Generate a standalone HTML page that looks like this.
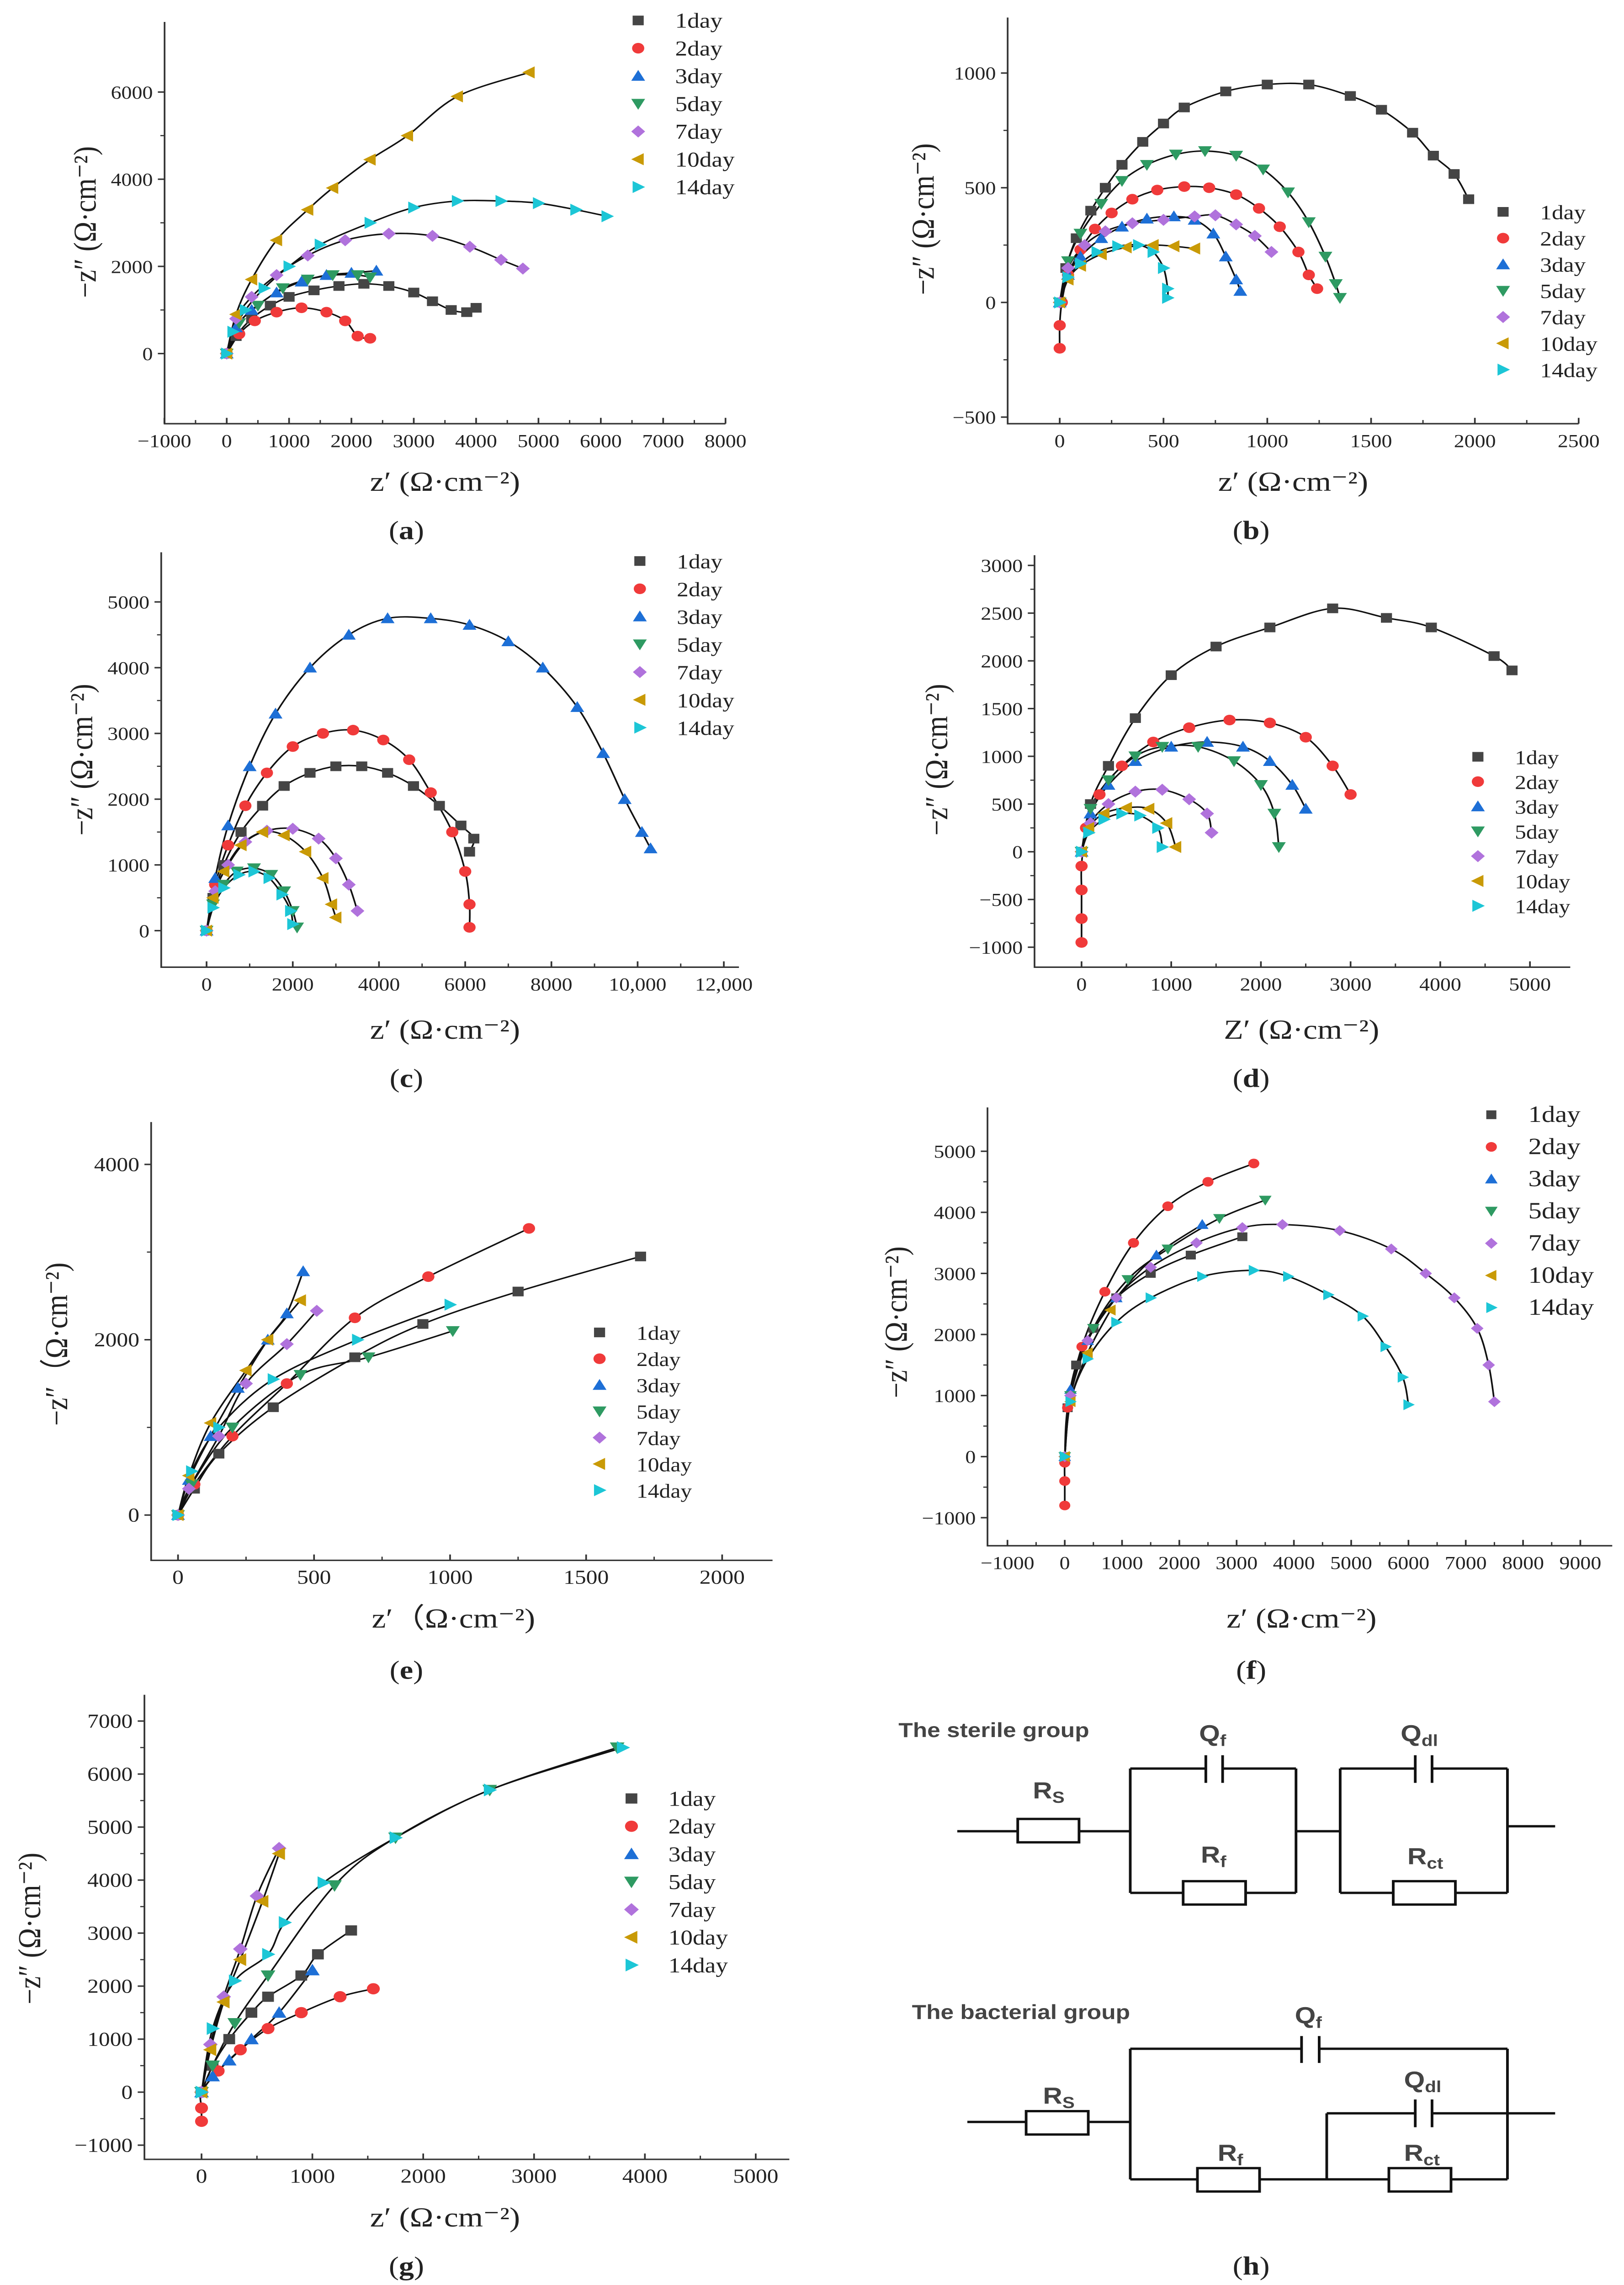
<!DOCTYPE html>
<html><head><meta charset="utf-8"><style>
html,body{margin:0;padding:0;background:#fff;overflow:hidden;width:100vw;height:100vh;}
svg{display:block;width:100vw;height:100vh;}
text{font-family:"Liberation Serif",serif;fill:#222;}
.sans{font-family:"Liberation Sans","DejaVu Sans",sans-serif;font-weight:bold;fill:#444;}
</style></head><body>
<svg id="fig" xmlns="http://www.w3.org/2000/svg" viewBox="0 0 967 1564" preserveAspectRatio="none">
<rect x="0" y="0" width="967" height="1564" fill="#fff"/>
<g id="plots"></g>
<g id="circuits" stroke="#111" stroke-width="1.6" fill="none">
  <polyline points="570,1253.4 606,1253.4"/>
  <rect x="606" y="1245" width="36.5" height="16"/>
  <polyline points="642.5,1253.4 673,1253.4"/>
  <polyline points="673,1210.5 673,1295.6"/>
  <polyline points="673,1210.5 718,1210.5"/><polyline points="718,1201.4 718,1220.3"/><polyline points="728,1201.4 728,1220.3"/><polyline points="728,1210.5 771.7,1210.5"/>
  <polyline points="771.7,1210.5 771.7,1295.6"/>
  <polyline points="673,1295.6 704.5,1295.6"/><rect x="704.5" y="1287.6" width="37.2" height="16"/><polyline points="741.7,1295.6 771.7,1295.6"/>
  <polyline points="771.7,1253.4 798,1253.4"/>
  <polyline points="798,1210.5 798,1295.6"/>
  <polyline points="798,1210.5 842.7,1210.5"/><polyline points="842.7,1201.4 842.7,1220.3"/><polyline points="852.7,1201.4 852.7,1220.3"/><polyline points="852.7,1210.5 897.6,1210.5"/>
  <polyline points="897.6,1210.5 897.6,1295.6"/>
  <polyline points="798,1295.6 829.6,1295.6"/><rect x="829.6" y="1287.6" width="37" height="16"/><polyline points="866.6,1295.6 897.6,1295.6"/>
  <polyline points="897.6,1250 926,1250"/>
  <polyline points="576,1452.4 611,1452.4"/><rect x="611" y="1445" width="37" height="16"/><polyline points="648,1452.4 673,1452.4"/>
  <polyline points="673,1402.3 673,1491.7"/>
  <polyline points="673,1402.3 775,1402.3"/><polyline points="775,1393.6 775,1412"/><polyline points="785.5,1393.6 785.5,1412"/><polyline points="785.5,1402.3 897.6,1402.3"/>
  <polyline points="897.6,1402.3 897.6,1491.7"/>
  <polyline points="673,1491.7 713,1491.7"/><rect x="713" y="1484" width="37" height="16"/><polyline points="750,1491.7 827,1491.7"/><rect x="827" y="1484" width="37" height="16"/><polyline points="864,1491.7 897.6,1491.7"/>
  <polyline points="790,1446.5 790,1491.7"/>
  <polyline points="790,1446.5 842.7,1446.5"/><polyline points="842.7,1437 842.7,1456"/><polyline points="852.7,1437 852.7,1456"/><polyline points="852.7,1446.5 926,1446.5"/>
</g>
<g>
  <text class="sans" x="535" y="1189" font-size="14">The sterile group</text>
  <text class="sans" x="543" y="1382" font-size="14">The bacterial group</text>
  <text class="sans" x="615" y="1231" font-size="16">R<tspan font-size="11" dy="3">S</tspan></text>
  <text class="sans" x="714" y="1192" font-size="16">Q<tspan font-size="11" dy="3">f</tspan></text>
  <text class="sans" x="715" y="1275" font-size="16">R<tspan font-size="11" dy="3">f</tspan></text>
  <text class="sans" x="834" y="1192" font-size="16">Q<tspan font-size="11" dy="3">dl</tspan></text>
  <text class="sans" x="838" y="1276" font-size="16">R<tspan font-size="11" dy="3">ct</tspan></text>
  <text class="sans" x="621" y="1440" font-size="16">R<tspan font-size="11" dy="3">S</tspan></text>
  <text class="sans" x="771" y="1385" font-size="16">Q<tspan font-size="11" dy="3">f</tspan></text>
  <text class="sans" x="725" y="1479" font-size="16">R<tspan font-size="11" dy="3">f</tspan></text>
  <text class="sans" x="836" y="1429" font-size="16">Q<tspan font-size="11" dy="3">dl</tspan></text>
  <text class="sans" x="836" y="1479" font-size="16">R<tspan font-size="11" dy="3">ct</tspan></text>
</g>
<g font-size="18">
  <text x="242" y="369" text-anchor="middle">(<tspan font-weight="bold">a</tspan>)</text>
  <text x="745" y="369" text-anchor="middle">(<tspan font-weight="bold">b</tspan>)</text>
  <text x="242" y="744" text-anchor="middle">(<tspan font-weight="bold">c</tspan>)</text>
  <text x="745" y="744" text-anchor="middle">(<tspan font-weight="bold">d</tspan>)</text>
  <text x="242" y="1149" text-anchor="middle">(<tspan font-weight="bold">e</tspan>)</text>
  <text x="745" y="1149" text-anchor="middle">(<tspan font-weight="bold">f</tspan>)</text>
  <text x="242" y="1557" text-anchor="middle">(<tspan font-weight="bold">g</tspan>)</text>
  <text x="745" y="1557" text-anchor="middle">(<tspan font-weight="bold">h</tspan>)</text>
</g>
</svg>
<script>
const seriesNames = ["1day","2day","3day","5day","7day","10day","14day"];
const seriesColors = ["#454545","#f03a3a","#1d6fd6","#2e9a62","#b072dc","#c99a06","#1cc6d6"];

const a_1day = [[0,0],[150,400],[400,800],[700,1100],[1000,1300],[1400,1450],[1800,1550],[2200,1600],[2600,1550],[3000,1400],[3300,1200],[3600,1000],[3850,950],[4000,1050]];
const a_2day = [[0,0],[200,450],[450,750],[800,950],[1200,1050],[1600,950],[1900,750],[2100,400],[2300,350]];
const a_3day = [[0,0],[150,600],[400,1000],[800,1400],[1200,1650],[1600,1800],[2000,1850],[2400,1900]];
const a_5day = [[0,0],[200,700],[500,1100],[900,1500],[1300,1700],[1700,1800],[2100,1800],[2300,1750]];
const a_7day = [[0,0],[150,800],[400,1300],[800,1800],[1300,2250],[1900,2600],[2600,2750],[3300,2700],[3900,2450],[4400,2150],[4750,1950]];
const a_10day = [[0,0],[150,900],[400,1700],[800,2600],[1300,3300],[1700,3800],[2300,4450],[2900,5000],[3700,5900],[4850,6450]];
const a_14day = [[0,0],[100,500],[300,1000],[600,1500],[1000,2000],[1500,2500],[2300,3000],[3000,3350],[3700,3500],[4400,3500],[5000,3450],[5600,3300],[6100,3150]];
const b_1day = [[0,0],[30,150],[80,280],[150,400],[220,500],[300,600],[400,700],[500,780],[600,850],[800,920],[1000,950],[1200,950],[1400,900],[1550,840],[1700,740],[1800,640],[1900,560],[1970,450]];
const b_2day = [[0,-200],[0,-100],[10,0],[40,120],[100,230],[170,320],[250,390],[350,450],[470,490],[600,505],[720,500],[850,470],[960,410],[1060,330],[1150,220],[1200,120],[1240,60]];
const b_3day = [[0,0],[40,120],[100,200],[200,280],[300,330],[420,365],[550,375],[650,360],[740,300],[800,200],[850,100],[870,50]];
const b_5day = [[0,0],[40,180],[100,300],[200,430],[300,530],[420,600],[560,645],[700,660],[850,640],[980,580],[1100,480],[1200,350],[1280,200],[1330,80],[1350,20]];
const b_7day = [[0,0],[40,150],[120,250],[220,310],[350,345],[500,360],[650,375],[750,380],[850,340],[940,290],[1020,220]];
const b_10day = [[0,0],[40,100],[100,160],[200,210],[320,240],[450,250],[550,245],[650,235]];
const b_14day = [[0,0],[40,110],[100,170],[180,220],[280,245],[380,250],[450,220],[500,150],[520,60],[520,20]];
const c_1day = [[0,0],[150,500],[400,1000],[800,1500],[1300,1900],[1800,2200],[2400,2400],[3000,2500],[3600,2500],[4200,2400],[4800,2200],[5400,1900],[5900,1600],[6200,1400],[6100,1200]];
const c_2day = [[0,0],[200,700],[500,1300],[900,1900],[1400,2400],[2000,2800],[2700,3000],[3400,3050],[4100,2900],[4700,2600],[5200,2100],[5700,1500],[6000,900],[6100,400],[6100,50]];
const c_3day = [[0,0],[200,800],[500,1600],[1000,2500],[1600,3300],[2400,4000],[3300,4500],[4200,4750],[5200,4750],[6100,4650],[7000,4400],[7800,4000],[8600,3400],[9200,2700],[9700,2000],[10100,1500],[10300,1250]];
const c_5day = [[0,0],[150,400],[400,700],[700,900],[1100,950],[1500,850],[1800,600],[2000,300],[2100,50]];
const c_7day = [[0,0],[200,600],[500,1000],[900,1350],[1400,1520],[2000,1550],[2600,1400],[3000,1100],[3300,700],[3500,300]];
const c_10day = [[0,0],[150,500],[400,900],[800,1300],[1300,1500],[1800,1450],[2300,1200],[2700,800],[2900,400],[3000,200]];
const c_14day = [[0,0],[150,350],[400,650],[750,850],[1100,900],[1450,800],[1750,550],[1950,300],[2000,100]];
const d_1day = [[0,0],[100,500],[300,900],[600,1400],[1000,1850],[1500,2150],[2100,2350],[2800,2550],[3400,2450],[3900,2350],[4600,2050],[4800,1900]];
const d_2day = [[0,-950],[0,-700],[0,-400],[0,-150],[50,250],[200,600],[450,900],[800,1150],[1200,1300],[1650,1380],[2100,1350],[2500,1200],[2800,900],[3000,600]];
const d_3day = [[0,0],[100,400],[300,700],[600,950],[1000,1100],[1400,1150],[1800,1100],[2100,950],[2350,700],[2500,450]];
const d_5day = [[0,0],[100,450],[300,750],[600,1000],[900,1100],[1300,1100],[1700,950],[2000,700],[2150,400],[2200,50]];
const d_7day = [[0,0],[100,300],[300,500],[600,630],[900,650],[1200,550],[1400,400],[1450,200]];
const d_10day = [[0,0],[80,250],[250,400],[500,460],[750,450],[950,300],[1050,50]];
const d_14day = [[0,0],[80,200],[250,340],[450,400],[650,380],[850,250],[900,50]];
const e_1day = [[0,0],[60,300],[150,700],[350,1230],[650,1800],[900,2180],[1250,2550],[1700,2950]];
const e_2day = [[0,0],[60,350],[200,900],[400,1500],[650,2250],[920,2720],[1290,3270]];
const e_3day = [[0,0],[40,400],[120,900],[220,1450],[330,2000],[400,2300],[460,2780]];
const e_5day = [[0,0],[50,350],[200,1000],[450,1600],[700,1800],[1010,2100]];
const e_7day = [[0,0],[40,300],[150,900],[250,1500],[400,1950],[510,2330]];
const e_10day = [[0,0],[40,450],[120,1050],[250,1650],[330,2000],[450,2450]];
const e_14day = [[0,0],[50,500],[150,1000],[350,1550],[660,2000],[1000,2400]];
const f_1day = [[0,0],[50,800],[200,1500],[500,2100],[900,2600],[1500,3000],[2200,3300],[3100,3600]];
const f_2day = [[0,-800],[0,-400],[0,-100],[50,800],[300,1800],[700,2700],[1200,3500],[1800,4100],[2500,4500],[3300,4800]];
const f_3day = [[0,0],[100,1100],[400,1900],[900,2600],[1600,3300],[2400,3800]];
const f_5day = [[0,0],[100,1000],[500,2100],[1100,2900],[1800,3400],[2700,3900],[3500,4200]];
const f_7day = [[0,0],[100,1000],[400,1900],[900,2600],[1500,3100],[2300,3500],[3100,3750],[3800,3800],[4800,3700],[5700,3400],[6300,3000],[6800,2600],[7200,2100],[7400,1500],[7500,900]];
const f_10day = [[0,0],[100,900],[400,1700],[800,2400]];
const f_14day = [[0,0],[100,900],[400,1600],[900,2200],[1500,2600],[2400,2950],[3300,3050],[3900,2950],[4600,2650],[5200,2300],[5600,1800],[5900,1300],[6000,850]];
const g_1day = [[0,0],[100,500],[250,1000],[450,1500],[600,1800],[900,2200],[1050,2600],[1350,3050]];
const g_2day = [[0,-550],[0,-300],[0,0],[150,400],[350,800],[600,1200],[900,1500],[1250,1800],[1550,1950]];
const g_3day = [[0,0],[100,300],[250,600],[450,1000],[700,1500],[1000,2300]];
const g_5day = [[0,0],[100,500],[300,1300],[600,2200],[1200,3900],[1750,4800],[2600,5700],[3750,6500]];
const g_7day = [[0,0],[80,900],[200,1800],[350,2700],[500,3700],[700,4600]];
const g_10day = [[0,0],[80,800],[200,1700],[350,2500],[550,3600],[700,4500]];
const g_14day = [[0,0],[100,1200],[300,2100],[600,2600],[750,3200],[1100,3950],[1750,4800],[2600,5700],[3800,6500]];

const a_xticks = [-1000,0,1000,2000,3000,4000,5000,6000,7000,8000];
const a_yticks = [0,2000,4000,6000];
const b_xticks = [0,500,1000,1500,2000,2500];
const b_yticks = [-500,0,500,1000];
const c_xticks = [0,2000,4000,6000,8000,10000,12000];
const c_xlabels = ["0","2000","4000","6000","8000","10,000","12,000"];
const c_yticks = [0,1000,2000,3000,4000,5000];
const d_xticks = [0,1000,2000,3000,4000,5000];
const d_yticks = [-1000,-500,0,500,1000,1500,2000,2500,3000];
const e_xticks = [0,500,1000,1500,2000];
const e_yticks = [0,2000,4000];
const f_xticks = [-1000,0,1000,2000,3000,4000,5000,6000,7000,8000,9000];
const f_yticks = [-1000,0,1000,2000,3000,4000,5000];
const g_xticks = [0,1000,2000,3000,4000,5000];
const g_yticks = [-1000,0,1000,2000,3000,4000,5000,6000,7000];

const NS = "http://www.w3.org/2000/svg";
function mk(tag, attrs, parent){const e=document.createElementNS(NS,tag);for(const k in attrs)e.setAttribute(k,attrs[k]);parent.appendChild(e);return e;}
function marker(i,x,y,s,g){
  const c=seriesColors[i];let e;
  if(i===0)e=mk("rect",{x:x-s,y:y-s,width:2*s,height:2*s,fill:c},g);
  else if(i===1)e=mk("circle",{cx:x,cy:y,r:s*1.1,fill:c},g);
  else{let p;const t=s*1.25;
    if(i===2)p=[[x,y-t],[x+t,y+t*0.8],[x-t,y+t*0.8]];
    else if(i===3)p=[[x,y+t],[x+t,y-t*0.8],[x-t,y-t*0.8]];
    else if(i===4)p=[[x,y-t],[x+t,y],[x,y+t],[x-t,y]];
    else if(i===5)p=[[x-t,y],[x+t*0.8,y-t],[x+t*0.8,y+t]];
    else p=[[x+t,y],[x-t*0.8,y-t],[x-t*0.8,y+t]];
    e=mk("polygon",{points:p.map(q=>q.join(",")).join(" "),fill:c},g);}
  return e;
}
function smooth(pts){
  let d="M"+pts[0][0]+","+pts[0][1];
  for(let i=0;i<pts.length-1;i++){
    const p0=pts[Math.max(0,i-1)],p1=pts[i],p2=pts[i+1],p3=pts[Math.min(pts.length-1,i+2)];
    const c1=[p1[0]+(p2[0]-p0[0])/6,p1[1]+(p2[1]-p0[1])/6],c2=[p2[0]-(p3[0]-p1[0])/6,p2[1]-(p3[1]-p1[1])/6];
    d+=" C"+c1.join(",")+" "+c2.join(",")+" "+p2.join(",");
  }
  return d;
}
function panel(cfg){
  const root=document.getElementById("plots");
  const g=mk("g",{},root);
  
  
  const X=v=>cfg.xp0+(v-cfg.xv0)*(cfg.xp1-cfg.xp0)/(cfg.xv1-cfg.xv0);
  const Y=v=>cfg.yp0+(v-cfg.yv0)*(cfg.yp1-cfg.yp0)/(cfg.yv1-cfg.yv0);
  const ax=mk("path",{d:`M${cfg.l},${cfg.t} L${cfg.l},${cfg.b} L${cfg.r},${cfg.b}`,stroke:"#333","stroke-width":1,fill:"none"},g);
  
  
  cfg.xt.forEach((v,i)=>{const x=X(v);
    mk("line",{x1:x,y1:cfg.b,x2:x,y2:cfg.b-4,stroke:"#333","stroke-width":1},g);
    if(i<cfg.xt.length-1){const xm=X(v+(cfg.xt[1]-cfg.xt[0])/2);mk("line",{x1:xm,y1:cfg.b,x2:xm,y2:cfg.b-2.5,stroke:"#333","stroke-width":0.8},g);}
    const t=mk("text",{x:x,y:cfg.b+16,"font-size":cfg.fs,"text-anchor":"middle"},g);
    t.textContent=cfg.xl?cfg.xl[i]:(v<0?"\u2212"+(-v):String(v));
    
    
  });
  cfg.yt.forEach((v,i)=>{const y=Y(v);
    mk("line",{x1:cfg.l,y1:y,x2:cfg.l-4,y2:y,stroke:"#333","stroke-width":1},g);
    if(i<cfg.yt.length-1){const ym=Y(v+(cfg.yt[1]-cfg.yt[0])/2);mk("line",{x1:cfg.l,y1:ym,x2:cfg.l-2.5,y2:ym,stroke:"#333","stroke-width":0.8},g);}
    const t=mk("text",{x:cfg.l-7,y:y+4.5,"font-size":cfg.fs,"text-anchor":"end"},g);
    t.textContent=v<0?"\u2212"+(-v):String(v);
    
    
  });
  cfg.series.forEach((data,i)=>{
    const pts=data.map(p=>[X(p[0]),Y(p[1])]);
    const ln=mk("path",{d:smooth(pts),stroke:"#111","stroke-width":1,fill:"none"},g);
    
    
  });
  cfg.series.forEach((data,i)=>{
    const sg=mk("g",{},g);
    
    
    data.forEach(p=>{const m=marker(i,X(p[0]),Y(p[1]),cfg.ms,sg);
      
      });
  });
  seriesNames.forEach((n,i)=>{const y=cfg.ly+i*cfg.ldy;
    const lg=mk("g",{},g);
    
    
    marker(i,cfg.lx,y,cfg.ms,lg);
    const t=mk("text",{x:cfg.lx+22,y:y+5,"font-size":cfg.lfs},lg);t.textContent=n;});
  const xt=mk("text",{x:cfg.xtx,y:cfg.xty,"font-size":19,"text-anchor":"middle"},g);
  xt.textContent=cfg.xtitle;
  
  
  const yt=mk("text",{x:0,y:0,"font-size":19,"text-anchor":"middle",transform:`translate(${cfg.ytx},${cfg.yty}) rotate(-90)`},g);
  yt.textContent=cfg.ytitle;
  
  
}
const XT="z\u2032 (\u03A9\u00B7cm\u207B\u00B2)", YT="\u2212z\u2033 (\u03A9\u00B7cm\u207B\u00B2)";
panel({name:"panel-a",xv0:0,xp0:135,xv1:8000,xp1:432,yv0:0,yp0:242,yv1:6000,yp1:63,l:98,t:15,r:432,b:290,xt:a_xticks,yt:a_yticks,fs:12.5,ms:3.3,
  series:[a_1day,a_2day,a_3day,a_5day,a_7day,a_10day,a_14day],lx:380,ly:14,ldy:19,lfs:14.5,xtx:265,xty:336,xtitle:XT,ytx:57,yty:152,ytitle:YT});
panel({name:"panel-b",xv0:0,xp0:631,xv1:2500,xp1:940,yv0:0,yp0:207,yv1:1000,yp1:50,l:600,t:12,r:940,b:290,xt:b_xticks,yt:b_yticks,fs:12.5,ms:3.3,
  series:[b_1day,b_2day,b_3day,b_5day,b_7day,b_10day,b_14day],lx:895,ly:145,ldy:18,lfs:14,xtx:770,xty:336,xtitle:XT,ytx:556,yty:150,ytitle:YT});
panel({name:"panel-c",xv0:0,xp0:123,xv1:12000,xp1:431,yv0:0,yp0:637,yv1:5000,yp1:412,l:96,t:378,r:440,b:662,xt:c_xticks,xl:c_xlabels,yt:c_yticks,fs:12.5,ms:3.3,
  series:[c_1day,c_2day,c_3day,c_5day,c_7day,c_10day,c_14day],lx:381,ly:384,ldy:19,lfs:14,xtx:265,xty:711,xtitle:XT,ytx:55,yty:520,ytitle:YT});
panel({name:"panel-d",xv0:0,xp0:644,xv1:5000,xp1:911,yv0:0,yp0:583,yv1:3000,yp1:387,l:616,t:380,r:935,b:662,xt:d_xticks,yt:d_yticks,fs:12.5,ms:3.3,
  series:[d_1day,d_2day,d_3day,d_5day,d_7day,d_10day,d_14day],lx:880,ly:518,ldy:17,lfs:13.5,xtx:775,xty:711,xtitle:"Z\u2032 (\u03A9\u00B7cm\u207B\u00B2)",ytx:564,yty:520,ytitle:YT});
panel({name:"panel-e",xv0:0,xp0:106,xv1:2000,xp1:430,yv0:0,yp0:1037,yv1:4000,yp1:797,l:90,t:768,r:460,b:1068,xt:e_xticks,yt:e_yticks,fs:13.5,ms:3.3,
  series:[e_1day,e_2day,e_3day,e_5day,e_7day,e_10day,e_14day],lx:357,ly:912,ldy:18,lfs:13.5,xtx:270,xty:1114,xtitle:"z\u2032\uFF08\u03A9\u00B7cm\u207B\u00B2)",ytx:40,yty:920,ytitle:"\u2212z\u2033\uFF08\u03A9\u00B7cm\u207B\u00B2)"});
panel({name:"panel-f",xv0:0,xp0:634,xv1:9000,xp1:941,yv0:0,yp0:997,yv1:5000,yp1:788,l:588,t:758,r:960,b:1058,xt:f_xticks,yt:f_yticks,fs:12.5,ms:3,
  series:[f_1day,f_2day,f_3day,f_5day,f_7day,f_10day,f_14day],lx:888,ly:763,ldy:22,lfs:16,xtx:775,xty:1114,xtitle:XT,ytx:540,yty:905,ytitle:YT});
panel({name:"panel-g",xv0:0,xp0:120,xv1:5000,xp1:450,yv0:0,yp0:1432,yv1:7000,yp1:1178,l:86,t:1160,r:470,b:1478,xt:g_xticks,yt:g_yticks,fs:13.5,ms:3.5,
  series:[g_1day,g_2day,g_3day,g_5day,g_7day,g_10day,g_14day],lx:376,ly:1231,ldy:19,lfs:14.5,xtx:265,xty:1524,xtitle:XT,ytx:24,yty:1320,ytitle:YT});
</script>
</body></html>
